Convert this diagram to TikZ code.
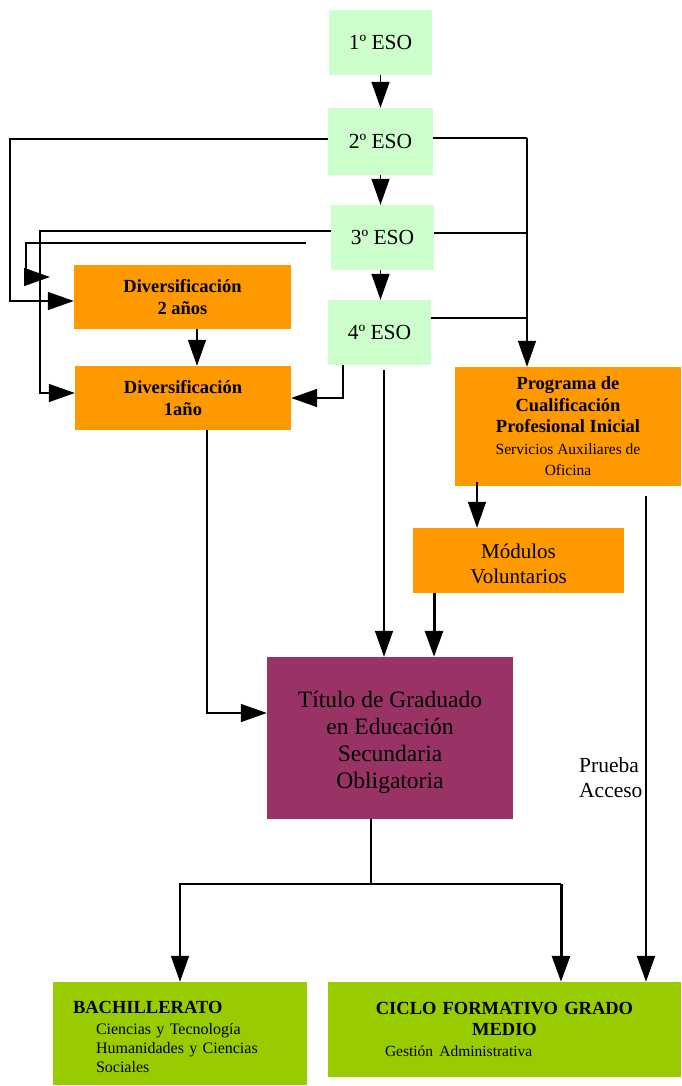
\documentclass[tikz,border=0pt]{standalone}
\usepackage{fontspec}
\setmainfont{Liberation Serif}
\usetikzlibrary{arrows.meta,calc}
\definecolor{lgreen}{HTML}{CCFFCC}
\definecolor{orng}{HTML}{FF9900}
\definecolor{purp}{HTML}{993366}
\definecolor{ygreen}{HTML}{99CC00}
\begin{document}
\begin{tikzpicture}[x=1pt,y=-1pt,
  box/.style={rectangle, inner sep=0pt, align=center, text=black},
  eso/.style={box, fill=lgreen, minimum width=103pt, minimum height=65pt, font=\fontsize{21.5}{24}\selectfont},
  orbox/.style={box, fill=orng},
  txt/.style={inner sep=0pt, text=black},
  ln/.style={line width=1.5pt, black},
  thk/.style={line width=3pt, black},
  tip/.style={-{Triangle[length=26pt,width=18pt]}},
  arr/.style={ln, tip},
  tarr/.style={thk, tip}]
\useasboundingbox (0,0) rectangle (681,1086);

% boxes
\node[eso] (e1) at (380.5,42.5) {1º ESO};
\node[eso, minimum width=105pt, minimum height=67pt] (e2) at (380.5,141.5) {2º ESO};
\node[eso] (e3) at (382.5,237.5) {3º ESO};
\node[eso] (e4) at (379.5,332.5) {4º ESO};
\node[orbox, minimum width=217pt, minimum height=64pt, font=\fontsize{18.5}{22}\selectfont\bfseries] (d2) at (182.5,297) {Diversificación\\2 años};
\node[orbox, minimum width=216pt, minimum height=64pt, font=\fontsize{18.5}{22}\selectfont\bfseries] (d1) at (183,398) {Diversificación\\1año};
\node[orbox, minimum width=226pt, minimum height=119pt, font=\fontsize{18.5}{21.5}\selectfont\bfseries] (pc) at (568,426.5)
  {Programa de\\Cualificación\\Profesional Inicial\\
   \normalfont\fontsize{15.5}{20}\selectfont Servicios Auxiliares de\\
   \normalfont\fontsize{15.5}{18}\selectfont Oficina};
\node[orbox, minimum width=211pt, minimum height=65pt] (mv) at (518.5,560.5) {};
\node[txt, align=center, font=\fontsize{21}{25}\selectfont] (mvt) at ([yshift=-3]mv.center) {Módulos\\Voluntarios};
\node[box, fill=purp, minimum width=246pt, minimum height=162pt] (ti) at (390,738) {};
\node[txt, align=center, font=\fontsize{23.5}{27}\selectfont] (tit) at ([yshift=-4.5]ti.center)
  {Título de Graduado\\en Educación\\Secundaria\\Obligatoria};
\node[box, fill=ygreen, minimum width=254pt, minimum height=103pt] (ba) at (180,1033.5) {};
\node[txt, text width=214pt, align=left, font=\fontsize{16}{18.5}\selectfont] (bat) at ([yshift=-3.5]ba.center)
  {\fontsize{18.5}{21}\selectfont\bfseries BACHILLERATO\\
   \normalfont\fontsize{16}{21}\selectfont\hspace*{23pt}Ciencias y Tecnología\\
   \normalfont\fontsize{16}{19}\selectfont\hspace*{23pt}Humanidades y Ciencias\\
   \normalfont\fontsize{16}{18.5}\selectfont\hspace*{23pt}Sociales};
\node[box, fill=ygreen, minimum width=353pt, minimum height=95pt, text width=353pt, font=\fontsize{18.5}{21}\selectfont\bfseries] (cf) at (504.5,1029.5)
  {CICLO FORMATIVO GRADO\\MEDIO\\\normalfont\fontsize{15.5}{19}\selectfont\makebox[239pt][l]{Gestión Administrativa}};

% label
\node[anchor=north west, inner sep=0pt, align=left, font=\fontsize{21.5}{25}\selectfont] (pa) at (579,757) {Prueba\\Acceso};

% ESO chain
\draw[arr] (e1.south) -- (e1.south |- e2.north);
\draw[arr] (e2.south) -- (e2.south |- e3.north);
\draw[arr] (e3.south -| e2.south) -- (e2.south |- e4.north);

% left connectors
\draw[arr] ([yshift=2.5]e2.west) -- (10,139) |- ([yshift=-4]d2.west);
\draw[arr] ([yshift=6.5]e3.west) -- (40,231) |- ([yshift=5]d1.west);
\coordinate (s3) at (306,243);
\coordinate (t3) at (50,277);
\draw[arr] (s3) -- (26,243) |- (t3);
\draw[arr] ([xshift=-36.5]e4.south) |- (d1.east);
\draw[arr] ([xshift=14.5]d2.south) -- ([xshift=14]d1.north);

% right connectors
\coordinate (rj) at (527,138);
\draw[ln] ([yshift=3.5]e2.east) -- (rj);
\draw[ln] ([yshift=4.5]e3.east) -- (527,233);
\draw[ln] ([yshift=14.5]e4.east) -- (527,318);
\draw[arr] (rj) -- (rj |- pc.north);

% to titulo
\coordinate (c4) at (384,370);
\draw[arr] (c4) -- (c4 |- ti.north);
\coordinate (cp) at (477,482);
\draw[arr] (cp) -- (cp |- mv.north);
\draw[tarr] ([xshift=-84.5]mv.south) -- ([xshift=-84.5]mv.south |- ti.north);
\draw[arr] ([xshift=24]d1.south) |- ([yshift=25]ti.west);

% prueba acceso
\coordinate (cq) at (646,496);
\draw[line width=2pt, tip] (cq) -- (cq |- cf.north);

% from titulo
\coordinate (br) at (371,884);
\coordinate (bj) at (561,884);
\draw[ln] ([xshift=-19]ti.south) -- (br);
\draw[arr] (br) -| (ba.north);
\draw[ln] (br) -- (bj);
\draw[tarr] (bj) -- (bj |- cf.north);
\end{tikzpicture}
\end{document}
